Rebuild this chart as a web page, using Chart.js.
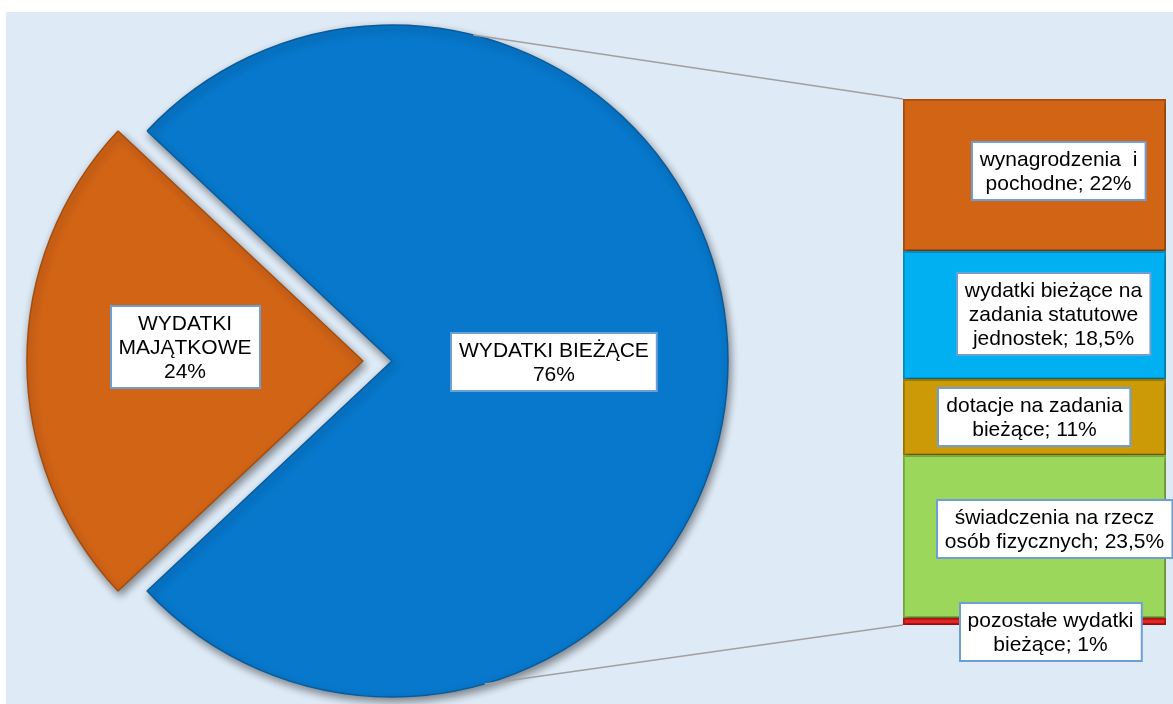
<!DOCTYPE html>
<html><head><meta charset="utf-8">
<script src="https://cdn.jsdelivr.net/npm/chart.js@4/dist/chart.umd.min.js"></script>
<style>
html,body{margin:0;padding:0;background:#fff;overflow:hidden;}
#wrap{position:relative;width:1173px;height:704px;overflow:hidden;}
#bg{position:absolute;left:6px;top:12px;right:0;bottom:0;background:#DEEAF6;}
canvas{position:absolute;left:0;top:0;}
</style></head>
<body>
<div id="wrap"><div id="bg"></div>
<canvas id="pie" width="784" height="722"></canvas>
<canvas id="bar" width="1173" height="704"></canvas>
</div>
<script>
// ---- data ----
const pieCategories = ['WYDATKI BIEŻĄCE', 'WYDATKI MAJĄTKOWE'];
const pieLabelLines = [['WYDATKI BIEŻĄCE'], ['WYDATKI', 'MAJĄTKOWE']];
const pieValues = [76, 24];

const barCategories = ['pozostałe wydatki bieżące', 'świadczenia na rzecz osób fizycznych', 'dotacje na zadania bieżące', 'wydatki bieżące na zadania statutowe jednostek', 'wynagrodzenia  i pochodne'];
const barLabelLines = [['pozostałe wydatki', 'bieżące'], ['świadczenia na rzecz', 'osób fizycznych'], ['dotacje na zadania', 'bieżące'], ['wydatki bieżące na', 'zadania statutowe', 'jednostek'], ['wynagrodzenia  i', 'pochodne']];
const barValues = [1, 23.5, 11, 18.5, 22];

// ---- styles ----
const pieColors = ['#0778CC', '#D26416'];
const pieBorders = ['#0A5A98', '#A24C0E'];
const barColors = ['#E42323', '#9BD75A', '#CB9A06', '#00B0F0', '#D26416'];
const barBorders = ['#B01515', '#76AC3E', '#A07800', '#0090C8', '#A9500F'];
const FONT = '21px "Liberation Sans", Arial, sans-serif';
const fmt = v => String(v).replace('.', ',') + '%';
const pieTotal = pieValues.reduce((a, b) => a + b, 0);
const barTotal = barValues.reduce((a, b) => a + b, 0);

function drawBox(ctx, lines, cx, cy) {
  ctx.save();
  ctx.shadowColor = 'transparent';
  ctx.font = FONT;
  const lh = 24, padX = 8, padY = 5;
  const w = Math.max(...lines.map(l => ctx.measureText(l).width)) + 2 * padX;
  const h = lines.length * lh + 2 * padY;
  const x = Math.round(cx - w / 2), y = Math.round(cy - h / 2);
  ctx.fillStyle = '#fff';
  ctx.fillRect(x, y, w, h);
  ctx.strokeStyle = '#6D9FD5';
  ctx.lineWidth = 2;
  ctx.strokeRect(x, y, w, h);
  ctx.fillStyle = '#000';
  ctx.textAlign = 'center';
  ctx.textBaseline = 'middle';
  lines.forEach((l, i) => ctx.fillText(l, cx, y + padY + lh * i + lh / 2 + 1));
  ctx.restore();
}

const shadowPlugin = {
  id: 'shadow',
  beforeDatasetsDraw(chart) {
    const ctx = chart.ctx;
    ctx.save();
    ctx.shadowColor = 'rgba(0,0,0,0.45)';
    ctx.shadowBlur = 8;
    ctx.shadowOffsetX = 2;
    ctx.shadowOffsetY = 4;
  },
  afterDatasetsDraw(chart) { chart.ctx.restore(); }
};

const pieLabelPlace = [{ r: 0.482, dy: 1 }, { r: 0.616, dy: -14 }];
const pieLabelPlugin = {
  id: 'pieLabels',
  afterDraw(chart) {
    const meta = chart.getDatasetMeta(0);
    meta.data.forEach((arc, i) => {
      const mid = (arc.startAngle + arc.endAngle) / 2;
      const p = pieLabelPlace[i];
      const cx = arc.x + Math.cos(mid) * arc.outerRadius * p.r;
      const cy = arc.y + Math.sin(mid) * arc.outerRadius * p.r + p.dy;
      drawBox(chart.ctx, [...pieLabelLines[i], fmt(pieValues[i])], cx, cy);
    });
  }
};

const pieChart = new Chart(document.getElementById('pie'), {
  type: 'pie',
  data: {
    labels: pieCategories,
    datasets: [{
      data: pieValues,
      backgroundColor: pieColors,
      borderColor: pieBorders,
      borderWidth: 1.5,
      offset: [0, 116],
      hoverOffset: 0
    }]
  },
  options: {
    responsive: false,
    animation: false,
    events: [],
    rotation: 270 + 180 * pieValues[1] / pieTotal,
    radius: 336,
    layout: { padding: 0 },
    plugins: { legend: { display: false }, tooltip: { enabled: false } }
  },
  plugins: [shadowPlugin, pieLabelPlugin]
});

const connectorAngles = [-76, 74];
const connectorPlugin = {
  id: 'connectors',
  beforeDatasetsDraw(chart) {
    const arc = pieChart.getDatasetMeta(0).data[0];
    const topEl = chart.getDatasetMeta(barValues.length - 1).data[0];
    const botEl = chart.getDatasetMeta(0).data[0];
    const left = topEl.x - topEl.width / 2;
    const ends = [[left, topEl.y], [left, botEl.base]];
    const ctx = chart.ctx;
    ctx.save();
    ctx.strokeStyle = '#A0A0A0';
    ctx.lineWidth = 1.5;
    connectorAngles.forEach((a, i) => {
      const t = a * Math.PI / 180;
      ctx.beginPath();
      ctx.moveTo(arc.x + Math.cos(t) * arc.outerRadius, arc.y + Math.sin(t) * arc.outerRadius);
      ctx.lineTo(ends[i][0], ends[i][1]);
      ctx.stroke();
    });
    ctx.restore();
  }
};

const barLabelShift = [{ dx: 16, dy: 10 }, { dx: 20, dy: -8 }, { dx: 0, dy: 0 }, { dx: 19, dy: -1 }, { dx: 24, dy: -4 }];
const barLabelPlugin = {
  id: 'barLabels',
  afterDraw(chart) {
    barValues.forEach((v, i) => {
      const el = chart.getDatasetMeta(i).data[0];
      const lines = barLabelLines[i].slice();
      lines[lines.length - 1] += '; ' + fmt(v);
      const s = barLabelShift[i];
      drawBox(chart.ctx, lines, el.x + s.dx, (el.y + el.base) / 2 + s.dy);
    });
  }
};

const barShadow = {
  id: 'barShadow',
  beforeDatasetsDraw(chart) {
    const ctx = chart.ctx;
    ctx.save();
    ctx.shadowColor = 'rgba(0,0,0,0.35)';
    ctx.shadowBlur = 4;
    ctx.shadowOffsetX = 1;
    ctx.shadowOffsetY = 3;
  },
  afterDatasetsDraw(chart) { chart.ctx.restore(); }
};

const barChart = new Chart(document.getElementById('bar'), {
  type: 'bar',
  data: {
    labels: [''],
    datasets: barValues.map((v, i) => ({
      label: barCategories[i],
      data: [v],
      backgroundColor: barColors[i],
      borderColor: barBorders[i],
      borderWidth: 2,
      borderSkipped: false,
      barPercentage: 1,
      categoryPercentage: 1
    }))
  },
  options: {
    responsive: false,
    animation: false,
    events: [],
    layout: { padding: { left: 903, right: 7, top: 99, bottom: 79 } },
    scales: {
      x: { stacked: true, display: false },
      y: { stacked: true, display: false, min: 0, max: barTotal }
    },
    plugins: { legend: { display: false }, tooltip: { enabled: false } }
  },
  plugins: [connectorPlugin, barShadow, barLabelPlugin]
});
</script>
</body></html>
